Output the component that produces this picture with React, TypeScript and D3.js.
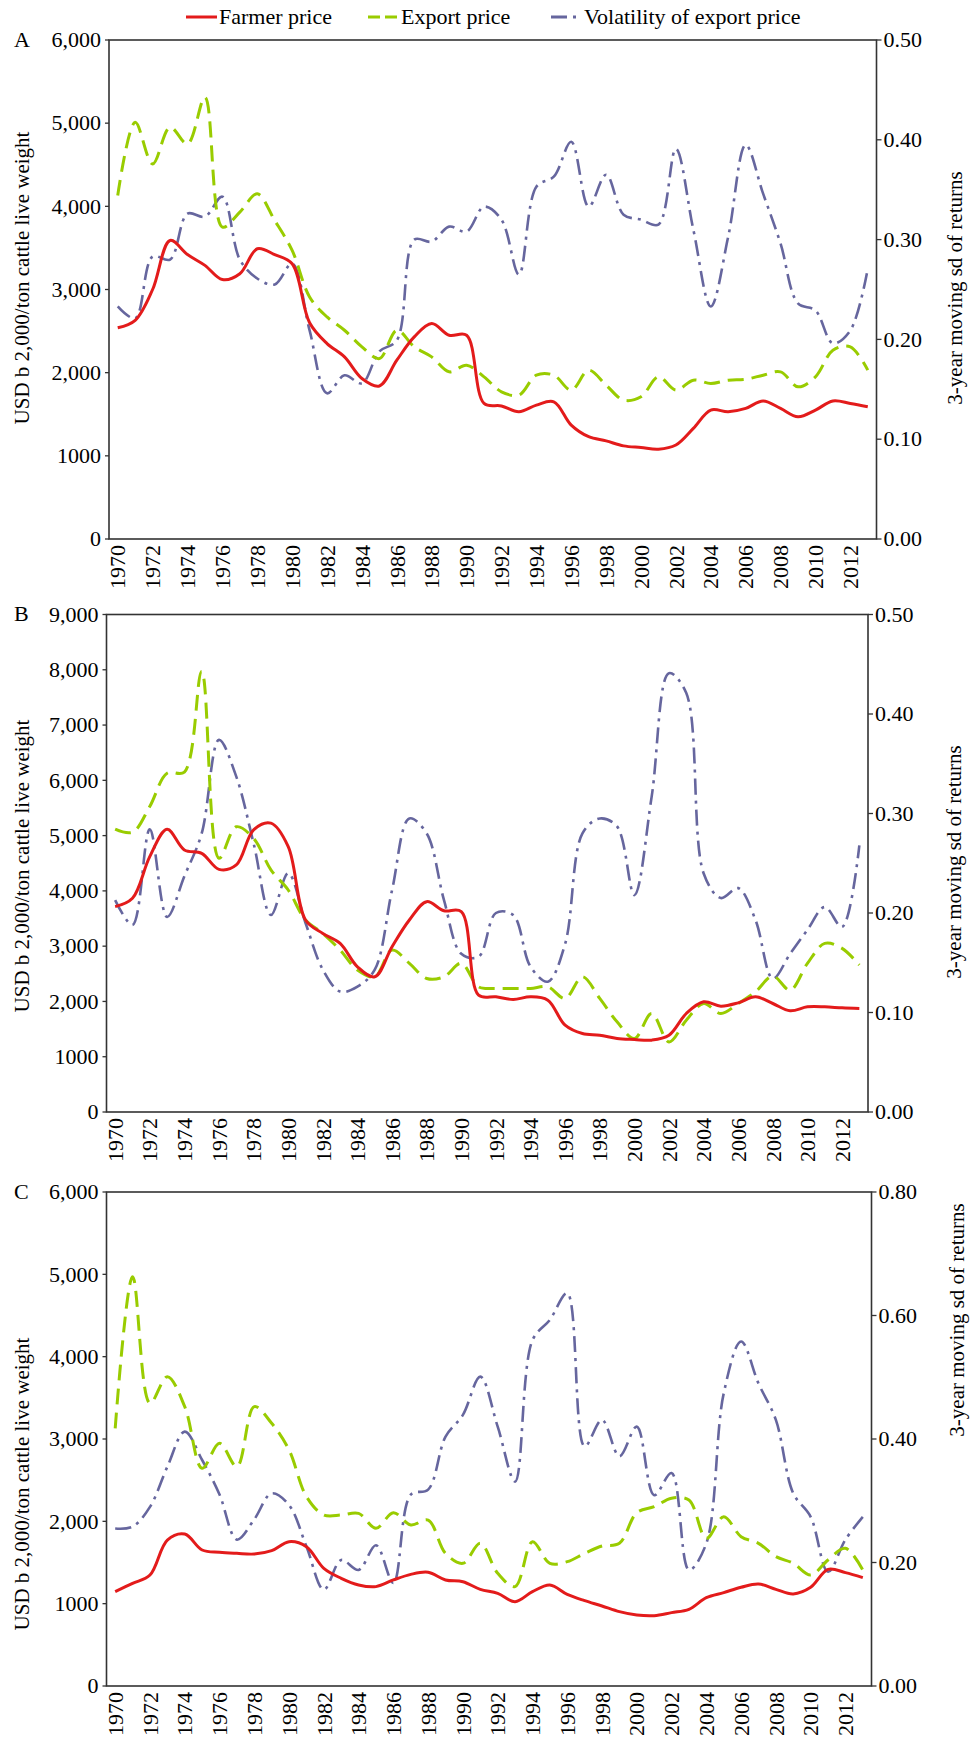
import React from "react";
import * as d3 from "d3";

// ---------- data ----------
const years = [
  1970, 1971, 1972, 1973, 1974, 1975, 1976, 1977, 1978, 1979,
  1980, 1981, 1982, 1983, 1984, 1985, 1986, 1987, 1988, 1989,
  1990, 1991, 1992, 1993, 1994, 1995, 1996, 1997, 1998, 1999,
  2000, 2001, 2002, 2003, 2004, 2005, 2006, 2007, 2008, 2009,
  2010, 2011, 2012, 2013,
];
const yearLabels = [
  1970, 1972, 1974, 1976, 1978, 1980, 1982, 1984, 1986, 1988, 1990,
  1992, 1994, 1996, 1998, 2000, 2002, 2004, 2006, 2008, 2010, 2012,
];

const seriesNames = ["Farmer price", "Export price", "Volatility of export price"];

// Panel A
const farmerA = [
  2540, 2630, 3000, 3590, 3420, 3290, 3120, 3190, 3490, 3420,
  3310, 2600, 2350, 2190, 1930, 1840, 2150, 2430, 2590, 2450,
  2450, 1630, 1600, 1530, 1610, 1650, 1370, 1230, 1180, 1120,
  1100, 1080, 1130, 1330, 1550, 1530, 1570, 1660, 1570, 1470,
  1550, 1660, 1630, 1590,
];
const exportA = [
  4130, 5010, 4510, 4950, 4750, 5310, 3750, 3930, 4150, 3830,
  3470, 2910, 2670, 2510, 2310, 2170, 2510, 2310, 2190, 2010,
  2090, 1950, 1770, 1730, 1970, 1970, 1790, 2030, 1850, 1670,
  1710, 1950, 1790, 1910, 1870, 1910, 1920, 1970, 2010, 1830,
  1950, 2270, 2310, 2030,
];
const volA = [
  0.233, 0.221, 0.283, 0.28, 0.326, 0.323, 0.343, 0.28, 0.261, 0.255,
  0.276, 0.209, 0.146, 0.164, 0.156, 0.188, 0.199, 0.3, 0.298, 0.313,
  0.308, 0.333, 0.32, 0.265, 0.353, 0.363, 0.398, 0.333, 0.365, 0.325,
  0.32, 0.315, 0.391, 0.31, 0.233, 0.303, 0.395, 0.346, 0.296, 0.236,
  0.229, 0.196, 0.209, 0.271,
];

// Panel B
const farmerB = [
  3715, 3866, 4620, 5116, 4741, 4680, 4390, 4470, 5104, 5225,
  4800, 3473, 3230, 3050, 2627, 2446, 2990, 3473, 3805, 3640,
  3624, 2114, 2084, 2035, 2084, 2023, 1570, 1419, 1389, 1329,
  1311, 1300, 1389, 1782, 1993, 1915, 1975, 2084, 1963, 1830,
  1903, 1903, 1884, 1872,
];
const exportB = [
  5116, 5060, 5527, 6130, 6150, 7970, 4590, 5160, 4950, 4380,
  4016, 3473, 3230, 2930, 2567, 2446, 2930, 2690, 2416, 2446,
  2690, 2265, 2235, 2235, 2235, 2265, 2054, 2446, 2054, 1631,
  1329, 1782, 1268, 1661, 1963, 1782, 1963, 2174, 2458, 2205,
  2688, 3050, 2960, 2658,
];
const volB = [
  0.213, 0.188, 0.284, 0.196, 0.237, 0.28, 0.374, 0.337, 0.27, 0.198,
  0.24, 0.19, 0.143, 0.121, 0.126, 0.143, 0.223, 0.295, 0.28, 0.213,
  0.159, 0.156, 0.2, 0.198, 0.146, 0.131, 0.169, 0.28, 0.295, 0.287,
  0.218, 0.317, 0.441, 0.421, 0.24, 0.215, 0.225, 0.193, 0.134, 0.159,
  0.183, 0.206, 0.186, 0.268,
];

// Panel C
const farmerC = [
  1146, 1247, 1348, 1773, 1846, 1652, 1624, 1611, 1603, 1644,
  1753, 1692, 1429, 1308, 1227, 1207, 1288, 1356, 1381, 1288,
  1267, 1174, 1126, 1024, 1146, 1227, 1113, 1037, 972, 903,
  862, 854, 891, 931, 1073, 1134, 1199, 1239, 1174, 1118,
  1199, 1417, 1377, 1316,
];
const exportC = [
  3130, 4972, 3434, 3757, 3393, 2644, 2948, 2664, 3393, 3191,
  2867, 2300, 2077, 2077, 2097, 1915, 2105, 1956, 2016, 1611,
  1490, 1733, 1369, 1207, 1753, 1490, 1510, 1611, 1700, 1733,
  2105, 2178, 2280, 2259, 1794, 2057, 1814, 1733, 1571, 1490,
  1348, 1531, 1672, 1409,
];
const volC = [
  0.255, 0.258, 0.29, 0.355, 0.412, 0.366, 0.31, 0.237, 0.27, 0.312,
  0.293, 0.226, 0.156, 0.204, 0.188, 0.228, 0.167, 0.31, 0.318, 0.404,
  0.439, 0.501, 0.42, 0.331, 0.56, 0.593, 0.636, 0.388, 0.431, 0.372,
  0.42, 0.309, 0.345, 0.188, 0.231, 0.474, 0.558, 0.49, 0.431, 0.312,
  0.274, 0.185, 0.237, 0.274,
];

// tick values / labels
const leftTicks6 = [0, 1000, 2000, 3000, 4000, 5000, 6000];
const leftLabels6 = ["0", "1000", "2,000", "3,000", "4,000", "5,000", "6,000"];
const leftTicks9 = [0, 1000, 2000, 3000, 4000, 5000, 6000, 7000, 8000, 9000];
const leftLabels9 = ["0", "1000", "2,000", "3,000", "4,000", "5,000", "6,000", "7,000", "8,000", "9,000"];
const rightTicks5 = [0, 0.1, 0.2, 0.3, 0.4, 0.5];
const rightTicks8 = [0, 0.2, 0.4, 0.6, 0.8];

const leftTitle = "USD b 2,000/ton cattle live weight";
const rightTitle = "3-year moving sd of returns";

// ---------- style ----------
const RED = "#e31b1b";
const GREEN = "#99cc00";
const BLUE = "#66669e";
const AXIS = "#333";
const FONT = "'Liberation Serif', 'Times New Roman', serif";
const GREEN_DASH = "16,8";
const BLUE_DASH = "16,6,3,6";

type PanelCfg = {
  letter: string;
  left: number; right: number; top: number; bottom: number;
  yMax: number; yTicks: number[]; yLabels: string[];
  rMax: number; rTicks: number[];
  farmer: number[]; exp: number[]; vol: number[];
  leftTitleY: number; rightTitleY: number; rightTitleX: number;
};

const panels: PanelCfg[] = [
  {
    letter: "A", left: 109, right: 876.5, top: 40, bottom: 539,
    yMax: 6000, yTicks: leftTicks6, yLabels: leftLabels6,
    rMax: 0.5, rTicks: rightTicks5,
    farmer: farmerA, exp: exportA, vol: volA,
    leftTitleY: 278, rightTitleY: 288, rightTitleX: 955,
  },
  {
    letter: "B", left: 106.5, right: 868, top: 614.5, bottom: 1112,
    yMax: 9000, yTicks: leftTicks9, yLabels: leftLabels9,
    rMax: 0.5, rTicks: rightTicks5,
    farmer: farmerB, exp: exportB, vol: volB,
    leftTitleY: 866, rightTitleY: 862, rightTitleX: 954,
  },
  {
    letter: "C", left: 106.5, right: 871.5, top: 1192, bottom: 1686,
    yMax: 6000, yTicks: leftTicks6, yLabels: leftLabels6,
    rMax: 0.8, rTicks: rightTicks8,
    farmer: farmerC, exp: exportC, vol: volC,
    leftTitleY: 1484, rightTitleY: 1320, rightTitleX: 957,
  },
];

function Panel({ c }: { c: PanelCfg }) {
  const x = d3.scalePoint<number>().domain(years).range([c.left, c.right]).padding(0.5);
  const y = d3.scaleLinear().domain([0, c.yMax]).range([c.bottom, c.top]);
  const r = d3.scaleLinear().domain([0, c.rMax]).range([c.bottom, c.top]);
  const curve = d3.curveCatmullRom.alpha(0.5);
  const lineL = d3.line<number>().x((_, i) => x(years[i]) as number).y((d) => y(d)).curve(curve);
  const lineR = d3.line<number>().x((_, i) => x(years[i]) as number).y((d) => r(d)).curve(curve);
  return (
    <g>
      <text x={14} y={c.top} dy="0.3em" fontSize={22} fontFamily={FONT}>{c.letter}</text>
      {/* frame */}
      <rect x={c.left} y={c.top} width={c.right - c.left} height={c.bottom - c.top}
        fill="none" stroke={AXIS} strokeWidth={1.6} />
      {/* left ticks */}
      {c.yTicks.map((t, i) => (
        <g key={"l" + t}>
          <line x1={c.left - 4} x2={c.left} y1={y(t)} y2={y(t)} stroke={AXIS} strokeWidth={1.3} />
          <text x={c.left - 8} y={y(t)} dy="0.33em" textAnchor="end" fontSize={22} fontFamily={FONT}>
            {c.yLabels[i]}
          </text>
        </g>
      ))}
      {/* right ticks */}
      {c.rTicks.map((t) => (
        <g key={"r" + t}>
          <line x1={c.right} x2={c.right + 5} y1={r(t)} y2={r(t)} stroke={AXIS} strokeWidth={1.3} />
          <text x={c.right + 7} y={r(t)} dy="0.33em" textAnchor="start" fontSize={22} fontFamily={FONT}>
            {t.toFixed(2)}
          </text>
        </g>
      ))}
      {/* x labels */}
      {yearLabels.map((yr) => (
        <text key={yr} transform={`translate(${x(yr)},${c.bottom + 6}) rotate(-90)`}
          dy="0.35em" textAnchor="end" fontSize={22} fontFamily={FONT}>
          {yr}
        </text>
      ))}
      {/* axis titles */}
      <text transform={`translate(22,${c.leftTitleY}) rotate(-90)`} dy="0.35em" textAnchor="middle"
        fontSize={21} fontFamily={FONT}>{leftTitle}</text>
      <text transform={`translate(${c.rightTitleX},${c.rightTitleY}) rotate(-90)`} dy="0.35em" textAnchor="middle"
        fontSize={21} fontFamily={FONT}>{rightTitle}</text>
      {/* series */}
      <path d={lineR(c.vol) || ""} fill="none" stroke={BLUE} strokeWidth={2.6} strokeDasharray={BLUE_DASH} />
      <path d={lineL(c.exp) || ""} fill="none" stroke={GREEN} strokeWidth={3} strokeDasharray={GREEN_DASH} />
      <path d={lineL(c.farmer) || ""} fill="none" stroke={RED} strokeWidth={3} />
    </g>
  );
}

function Legend() {
  const items = [
    { name: seriesNames[0], color: RED, dash: undefined as string | undefined, x: 186 },
    { name: seriesNames[1], color: GREEN, dash: "12,5", x: 368 },
    { name: seriesNames[2], color: BLUE, dash: "16,6,3,6", x: 551 },
  ];
  return (
    <g>
      {items.map((it) => (
        <g key={it.name}>
          <line x1={it.x} x2={it.x + 31} y1={17} y2={17} stroke={it.color} strokeWidth={3}
            strokeDasharray={it.dash} />
          <text x={it.x + 33} y={17} dy="0.33em" fontSize={22} fontFamily={FONT}>{it.name}</text>
        </g>
      ))}
    </g>
  );
}

export default function App() {
  return (
    <svg width={971} height={1737} style={{ position: "absolute", left: 0, top: 0, background: "#fff" }}>
      <rect width={971} height={1737} fill="#fff" />
      <Legend />
      {panels.map((p) => (
        <Panel key={p.letter} c={p} />
      ))}
    </svg>
  );
}
